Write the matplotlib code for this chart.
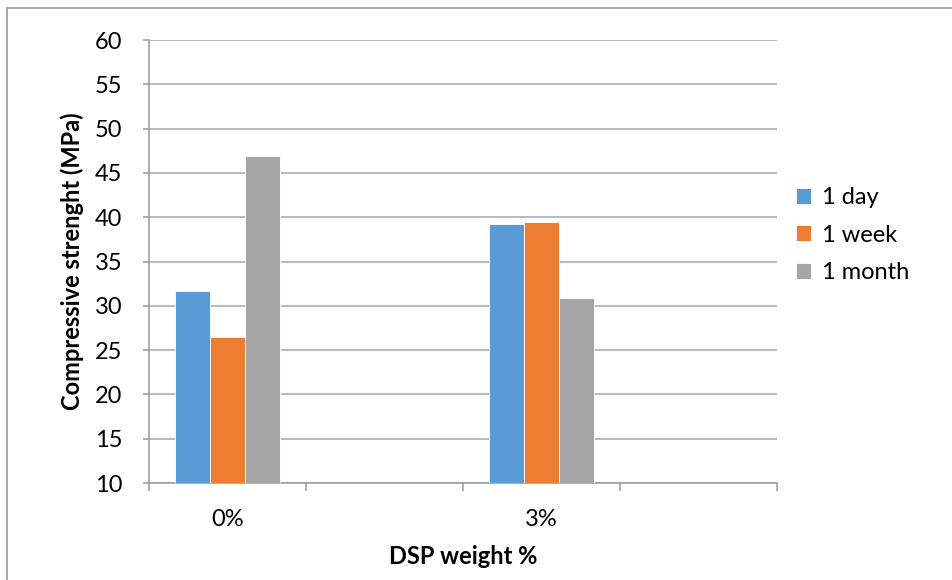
import matplotlib
matplotlib.use("Agg")
import matplotlib.pyplot as plt
import numpy as np
from matplotlib.patches import Rectangle

plt.rcParams['font.family'] = ['Lato', 'DejaVu Sans']

# data
categories = ["0%", "", "3%", ""]
one_day = [31.7, np.nan, 39.2, np.nan]
one_week = [26.5, np.nan, 39.5, np.nan]
one_month = [46.9, np.nan, 30.9, np.nan]
series_names = ["1 day", "1 week", "1 month"]
colors = ["#5B9BD5", "#ED7D31", "#A5A5A5"]

fs = 17

fig = plt.figure(figsize=(9.52, 5.8), dpi=100)
ax = fig.add_axes([149/952, 97/580, 628/952, 443/580])

# outer chart border (runs off the right/bottom of the picture)
fig.patches.append(Rectangle((7/952, -0.1), 1.2, 1 - 8/580 + 0.1, transform=fig.transFigure,
                             fill=False, edgecolor="#9a9a9a", lw=1.2))

x = np.arange(len(categories))
w = 0.223
for i, (vals, name, c) in enumerate(zip([one_day, one_week, one_month], series_names, colors)):
    vals = np.array(vals)
    ax.bar(x + (i - 1) * w, vals - 10, bottom=10, width=w, color=c, edgecolor="white",
           linewidth=0.6, label=name, zorder=3)

ax.set_ylim(10, 60)
ax.set_xlim(-0.5, len(categories) - 0.5)
ax.set_yticks(np.arange(10, 61, 5))
ax.yaxis.grid(True, color="#a6a6a6", lw=1.1, zorder=0)
ax.set_axisbelow(True)

for s in ["top", "right"]:
    ax.spines[s].set_visible(False)
ax.spines["left"].set_color("#9a9a9a")
ax.spines["bottom"].set_color("#9a9a9a")
ax.spines["left"].set_linewidth(1.1)
ax.spines["bottom"].set_linewidth(1.1)

ax.set_xticks(x)
ax.set_xticklabels(categories)
ax.set_xticks(np.arange(-0.5, len(categories), 1), minor=True)
ax.tick_params(axis="x", which="major", length=0, pad=19, labelsize=fs)
ax.tick_params(axis="x", which="minor", length=6, color="#9a9a9a", width=1.1)
ax.tick_params(axis="y", length=4, color="#9a9a9a", width=1.1, pad=15, labelsize=fs)

ax.set_ylabel("Compressive strenght (MPa)", fontsize=fs, fontweight="bold")
ax.yaxis.set_label_coords(-0.103, 0.5)
ax.set_xlabel("DSP weight %", fontsize=fs, fontweight="bold")
ax.xaxis.set_label_coords(0.5, -0.165)
ax.xaxis.label.set_verticalalignment("center")

ax.legend(loc="center left", bbox_to_anchor=(796/952, (580-235)/580), bbox_transform=fig.transFigure,
          frameon=False, fontsize=fs, handlelength=0.65, handleheight=0.65,
          handletextpad=0.45, labelspacing=0.7, borderaxespad=0, borderpad=0)

fig.savefig("out.png", dpi=100)
